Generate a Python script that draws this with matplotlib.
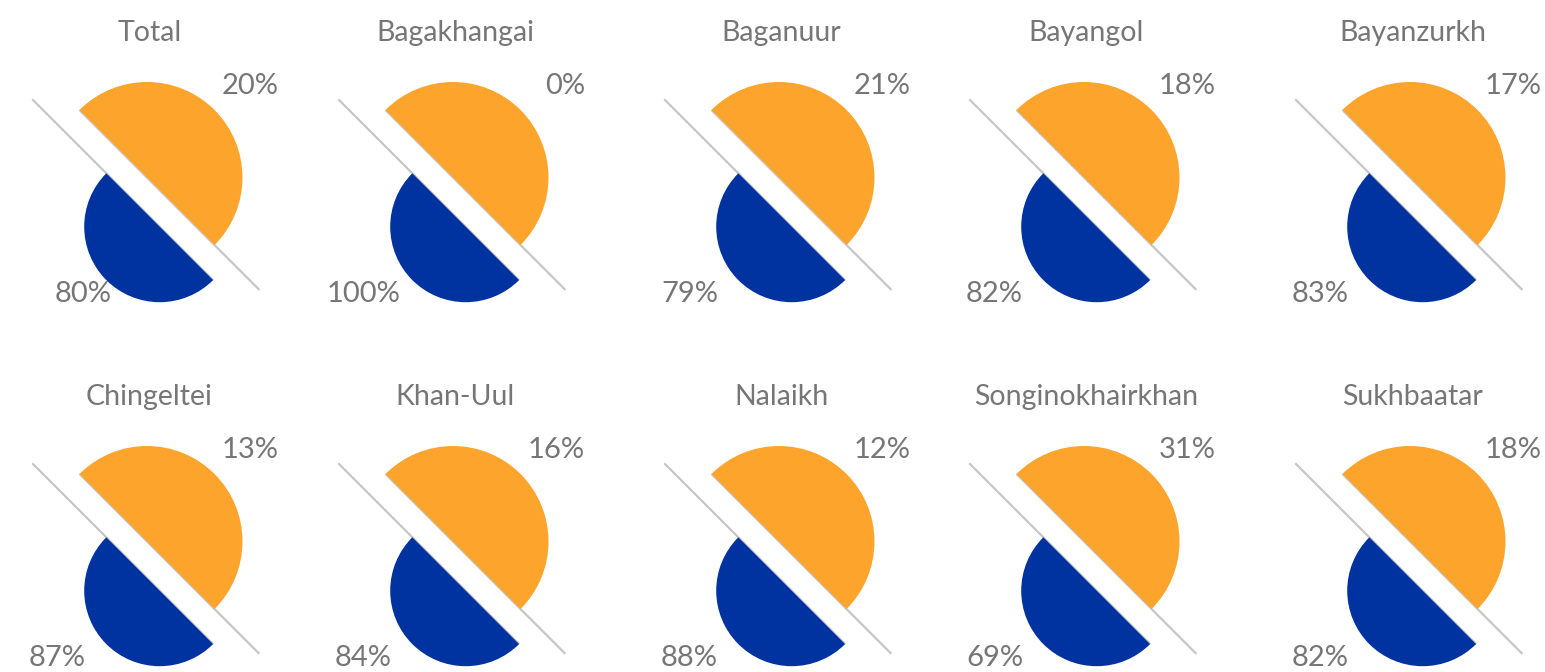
import matplotlib
matplotlib.use("Agg")
import matplotlib.pyplot as plt
from matplotlib.patches import Wedge
import numpy as np

# ---- data ----
districts = ["Total", "Bagakhangai", "Baganuur", "Bayangol", "Bayanzurkh",
             "Chingeltei", "Khan-Uul", "Nalaikh", "Songinokhairkhan", "Sukhbaatar"]
share_orange = [20, 0, 21, 18, 17, 13, 16, 12, 31, 18]
share_blue = [80, 100, 79, 82, 83, 87, 84, 88, 69, 82]

# ---- style ----
ORANGE = "#FDA42D"
BLUE = "#0033A0"
GREY_TXT = "#767676"
GREY_LINE = "#C6C6C6"
plt.rcParams["font.family"] = ["Lato", "DejaVu Sans"]

W, H = 1545, 672
fig = plt.figure(figsize=(W / 100, H / 100), dpi=100)

col_off = [0, 306, 632, 937, 1263]
row_off = [0, 364]
PW, PH = 305, 336
blue_label_x = [83.5, 57.5, 57.5, 57.5, 57.5, 57.5, 57.5, 57.5, 57.5, 57.5]

d = np.array([np.cos(np.radians(-45)), np.sin(np.radians(-45))])

for i, name in enumerate(districts):
    r, c = divmod(i, 5)
    ox, oy = col_off[c], row_off[r]
    ax = fig.add_axes([ox / W, 1 - (oy + PH) / H, PW / W, PH / H])
    ax.set_xlim(0, PW)
    ax.set_ylim(0, PH)
    ax.set_axis_off()

    # orange half with its diameter line extended to the lower right
    oc = np.array([147.0, 158.5]); orr = 95.5
    a1, a2 = oc - orr * d, oc + 158.9 * d
    ax.plot([a1[0], a2[0]], [a1[1], a2[1]], color=GREY_LINE, lw=1.6,
            solid_capstyle="butt", zorder=1)
    ax.add_patch(Wedge(tuple(oc), orr, -45, 135, facecolor=ORANGE,
                       edgecolor="none", zorder=3))

    # blue half with its diameter line extended to the upper left
    bc = np.array([159.7, 109.3]); br = 75.5
    b1, b2 = bc - 180.2 * d, bc + br * d
    ax.plot([b1[0], b2[0]], [b1[1], b2[1]], color=GREY_LINE, lw=1.6,
            solid_capstyle="butt", zorder=1)
    ax.add_patch(Wedge(tuple(bc), br, 135, 315, facecolor=BLUE,
                       edgecolor="none", zorder=3))

    # texts
    ax.text(149.5, 303, name, ha="center", va="center", fontsize=20.5,
            color=GREY_TXT, clip_on=False)
    ax.text(279, 250, f"{share_orange[i]}%", ha="right", va="center",
            fontsize=21, color=GREY_TXT, clip_on=False)
    ax.text(blue_label_x[i], 42.5, f"{share_blue[i]}%", ha="center",
            va="center", fontsize=21, color=GREY_TXT, clip_on=False)

fig.savefig("out.png", dpi=100, facecolor="white")
